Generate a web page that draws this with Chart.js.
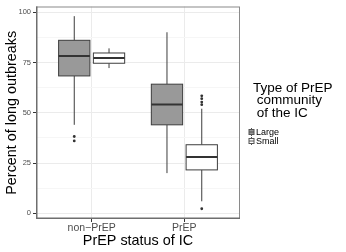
<!DOCTYPE html>
<html>
<head>
<meta charset="utf-8">
<script src="https://cdn.jsdelivr.net/npm/chart.js@4.4.1/dist/chart.umd.min.js"></script>
<style>
  html, body { margin: 0; padding: 0; background: #fff; }
  #wrap { position: relative; width: 346px; height: 252px; font-family: "Liberation Sans", Arial, sans-serif; }
  #legend-title { position: absolute; left: 253px; top: 82px; font-size: 13.5px; line-height: 12.3px; white-space: pre; color: #000; }
  .legend-label { position: absolute; left: 256px; font-size: 9px; line-height: 9px; color: #000; }
</style>
</head>
<body>
<div id="wrap">
  <canvas id="chart-canvas" width="346" height="252"></canvas>
  <div id="legend-title">Type of PrEP
 community
 of the IC</div>
  <div class="legend-label" style="top:127.5px">Large</div>
  <div class="legend-label" style="top:136.5px">Small</div>
</div>
<script>
// categories on the x axis and the two community types
const categories = ['non\u2212PrEP', 'PrEP'];
const communityTypes = ['Large', 'Small'];

// five-number summaries per category: [lower whisker, Q1, median, Q3, upper whisker]
const largeStats = [
  [44, 68.3, 78.2, 86, 98],
  [20, 44, 54.1, 64.2, 90]
];
const smallStats = [
  [72.2, 74.6, 77.2, 79.7, 82],
  [6, 21.6, 28, 34.1, 52]
];

// outlying points per category
const largeOutliers = [[38.2, 36], []];
const smallOutliers = [[], [2.3, 54, 55.3, 57, 58.4]];

const yTicks = [0, 25, 50, 75, 100];
const yMinorTicks = [12.5, 37.5, 62.5, 87.5];

const dodge = 0.1875;
const halfBox = 0.16875;
const fills = ['#999999', '#ffffff'];
const lineCol = '#3d3d3d';

const statsByType = [largeStats, smallStats];
const outliersByType = [largeOutliers, smallOutliers];

function xFor(catIdx, typeIdx) {
  return catIdx + 1 + (typeIdx === 0 ? -dodge : dodge);
}

const outlierDatasets = communityTypes.map((name, t) => ({
  label: name,
  data: outliersByType[t].flatMap((vals, c) => vals.map(v => ({ x: xFor(c, t), y: v }))),
  pointRadius: 1.4,
  pointBackgroundColor: '#333',
  pointBorderWidth: 0,
  showLine: false
}));

const boxPlugin = {
  id: 'boxes',
  beforeDatasetsDraw(chart) {
    const { ctx, scales: { x, y } } = chart;
    ctx.save();
    statsByType.forEach((stats, t) => {
      stats.forEach((s, c) => {
        const cx = x.getPixelForValue(xFor(c, t));
        const left = x.getPixelForValue(xFor(c, t) - halfBox);
        const right = x.getPixelForValue(xFor(c, t) + halfBox);
        const [lo, q1, med, q3, hi] = s.map(v => y.getPixelForValue(v));
        ctx.strokeStyle = lineCol;
        ctx.lineWidth = 1;
        ctx.beginPath();
        ctx.moveTo(cx, hi); ctx.lineTo(cx, q3);
        ctx.moveTo(cx, q1); ctx.lineTo(cx, lo);
        ctx.stroke();
        ctx.fillStyle = fills[t];
        ctx.fillRect(left, q3, right - left, q1 - q3);
        ctx.strokeRect(left, q3, right - left, q1 - q3);
        ctx.lineWidth = 2;
        ctx.strokeStyle = '#333';
        ctx.beginPath();
        ctx.moveTo(left, med); ctx.lineTo(right, med);
        ctx.stroke();
      });
    });
    ctx.restore();
  },
  afterDraw(chart) {
    const { ctx, chartArea: a } = chart;
    ctx.save();
    // panel border, heavier along the axes
    ctx.strokeStyle = '#8a8a8a';
    ctx.lineWidth = 1;
    ctx.strokeRect(a.left + 0.5, a.top + 0.5, a.right - a.left - 1, a.bottom - a.top - 1);
    ctx.strokeStyle = '#6e6e6e';
    ctx.lineWidth = 1.5;
    ctx.beginPath();
    ctx.moveTo(a.left + 0.75, a.top); ctx.lineTo(a.left + 0.75, a.bottom - 0.75);
    ctx.lineTo(a.right, a.bottom - 0.75);
    ctx.stroke();
    // legend keys
    [132, 141].forEach((cy, t) => {
      ctx.strokeStyle = '#555';
      ctx.lineWidth = 1;
      ctx.beginPath();
      ctx.moveTo(251.5, cy - 4); ctx.lineTo(251.5, cy + 4);
      ctx.stroke();
      ctx.fillStyle = fills[t];
      ctx.fillRect(249, cy - 2.5, 5, 5);
      ctx.strokeRect(249, cy - 2.5, 5, 5);
      ctx.beginPath();
      ctx.moveTo(249, cy); ctx.lineTo(254, cy);
      ctx.stroke();
    });
    ctx.restore();
  }
};

new Chart(document.getElementById('chart-canvas'), {
  type: 'scatter',
  data: { datasets: outlierDatasets },
  plugins: [boxPlugin],
  options: {
    responsive: false,
    animation: false,
    devicePixelRatio: 1,
    layout: { padding: { top: 3, right: 106, left: 0, bottom: 0 } },
    plugins: { legend: { display: false }, tooltip: { enabled: false } },
    scales: {
      x: {
        type: 'linear',
        min: 0.4,
        max: 2.6,
        afterBuildTicks: s => { s.ticks = [{ value: 1 }, { value: 2 }]; },
        afterFit: s => { s.height = 33; },
        ticks: {
          callback: v => categories[v - 1],
          font: { family: 'Liberation Sans', size: 10.5 },
          color: '#4d4d4d',
          padding: 0,
          maxRotation: 0
        },
        grid: { color: '#ebebeb', tickColor: '#333', tickLength: 3 },
        border: { display: false },
        title: {
          display: true,
          text: 'PrEP status of IC',
          font: { family: 'Liberation Sans', size: 14.4 },
          color: '#000',
          padding: { top: 0, bottom: 2 }
        }
      },
      y: {
        min: -2.8,
        max: 102.8,
        afterBuildTicks: s => {
          s.ticks = yTicks.concat(yMinorTicks).sort((a, b) => a - b).map(v => ({ value: v }));
        },
        afterFit: s => { s.width = 36; },
        ticks: {
          callback: v => (yTicks.includes(v) ? v : ''),
          font: { family: 'Liberation Sans', size: 7.5 },
          color: '#4d4d4d',
          padding: 2
        },
        grid: {
          color: c => (yTicks.includes(c.tick.value) ? '#ebebeb' : '#f6f6f6'),
          tickColor: c => (yTicks.includes(c.tick.value) ? '#333' : 'rgba(0,0,0,0)'),
          tickLength: 3
        },
        border: { display: false },
        title: {
          display: true,
          text: 'Percent of long outbreaks',
          font: { family: 'Liberation Sans', size: 14.4 },
          color: '#000',
          padding: { top: 3, bottom: 0 }
        }
      }
    }
  }
});
</script>
</body>
</html>
